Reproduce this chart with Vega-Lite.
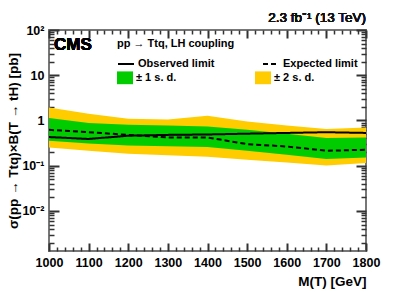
{
  "$schema": "https://vega.github.io/schema/vega-lite/v6.json",
  "width": 317,
  "height": 221,
  "autosize": {"type": "none"},
  "padding": {"left": 49, "top": 30, "right": 41, "bottom": 41},
  "background": "white",
  "config": {
    "font": "Liberation Sans",
    "view": {"stroke": "#777", "strokeWidth": 2},
    "axis": {"domain": false, "grid": false, "zindex": 1, "labelFont": "Liberation Sans", "labelFontWeight": "bold", "labelFontSize": 12.5, "labelColor": "black", "titleFont": "Liberation Sans", "titleFontWeight": "bold", "titleFontSize": 13.5, "titleColor": "black"},
    "legend": {"orient": "none", "padding": 0, "columns": 2, "rowPadding": 1, "titleFont": "Liberation Sans", "titleFontSize": 11, "titleFontWeight": "bold", "titleColor": "black", "labelFont": "Liberation Sans", "labelFontSize": 11, "labelFontWeight": "bold", "labelColor": "black", "labelOffset": 3, "symbolSize": 256}
  },
  "data": {"values": [
    {"m": 1000, "obs": 0.43, "exp": 0.62, "lo1": 0.356, "hi1": 1.13, "lo2": 0.253, "hi2": 1.94},
    {"m": 1100, "obs": 0.39, "exp": 0.55, "lo1": 0.31, "hi1": 0.876, "lo2": 0.214, "hi2": 1.41},
    {"m": 1200, "obs": 0.46, "exp": 0.48, "lo1": 0.28, "hi1": 0.80, "lo2": 0.183, "hi2": 1.09},
    {"m": 1300, "obs": 0.48, "exp": 0.42, "lo1": 0.27, "hi1": 0.775, "lo2": 0.17, "hi2": 1.05},
    {"m": 1400, "obs": 0.49, "exp": 0.42, "lo1": 0.258, "hi1": 0.737, "lo2": 0.157, "hi2": 1.27},
    {"m": 1500, "obs": 0.51, "exp": 0.30, "lo1": 0.214, "hi1": 0.62, "lo2": 0.135, "hi2": 0.95},
    {"m": 1600, "obs": 0.53, "exp": 0.266, "lo1": 0.174, "hi1": 0.51, "lo2": 0.118, "hi2": 0.775},
    {"m": 1700, "obs": 0.55, "exp": 0.214, "lo1": 0.14, "hi1": 0.41, "lo2": 0.101, "hi2": 0.645},
    {"m": 1800, "obs": 0.53, "exp": 0.225, "lo1": 0.152, "hi1": 0.42, "lo2": 0.114, "hi2": 0.70}
  ]},
  "resolve": {"axis": {"x": "independent", "y": "independent"}},
  "layer": [
    {
      "mark": {"type": "area", "opacity": 1},
      "encoding": {
        "x": {"field": "m", "type": "quantitative",
          "scale": {"domain": [1000, 1800], "nice": false, "zero": false},
          "axis": {"orient": "bottom", "title": "M(T) [GeV]", "titleAnchor": "end", "titlePadding": 6, "format": "d", "offset": -8, "tickSize": 8, "labelPadding": 5, "tickColor": "#333", "tickWidth": 2,
            "values": [1000,1100,1200,1300,1400,1500,1600,1700,1800],
            "labelFlush": false, "labelOverlap": false}},
        "y": {"field": "hi2", "type": "quantitative",
          "scale": {"type": "log", "domain": [0.0013, 100], "nice": false},
          "axis": {"orient": "left", "title": "σ(pp → Ttq)×B(T → tH) [pb]", "titlePadding": 1, "offset": -10, "tickSize": 10, "labelPadding": 5, "tickColor": "#333", "tickWidth": 2,
            "values": [0.01, 0.1, 1, 10, 100],
            "labelExpr": "datum.value == 100 ? '10²' : datum.value == 10 ? '10' : datum.value == 1 ? '1' : datum.value == 0.1 ? '10⁻¹' : '10⁻²'",
            "labelOverlap": false, "labelFlush": false}},
        "y2": {"field": "lo2"},
        "fill": {"datum": "± 2 s. d.", "type": "nominal",
          "scale": {"domain": ["± 1 s. d.", "± 2 s. d."], "range": ["#00cc00", "#ffcc00"]},
          "legend": {"legendX": 68, "legendY": 39.5, "title": null, "columnPadding": 78, "symbolType": "M-1,-0.8L1,-0.8L1,0.8L-1,0.8Z", "symbolOpacity": 1, "symbolStrokeWidth": 0}}
      }
    },
    {
      "mark": {"type": "area", "opacity": 1},
      "encoding": {
        "x": {"field": "m", "type": "quantitative",
          "axis": {"orient": "top", "title": null, "labels": false, "offset": -8, "tickSize": 8, "tickColor": "#333", "tickWidth": 2, "values": [1000,1100,1200,1300,1400,1500,1600,1700,1800]}},
        "y": {"field": "hi1", "type": "quantitative",
          "axis": {"orient": "right", "title": null, "labels": false, "offset": -10, "tickSize": 10, "tickColor": "#333", "tickWidth": 2, "values": [0.01, 0.1, 1, 10, 100]}},
        "y2": {"field": "lo1"},
        "fill": {"datum": "± 1 s. d.", "type": "nominal", "legend": null}
      }
    },
    {
      "mark": {"type": "line", "strokeWidth": 2, "color": "black"},
      "encoding": {
        "x": {"field": "m", "type": "quantitative",
          "axis": {"orient": "bottom", "title": null, "labels": false, "offset": -4, "tickSize": 4, "tickColor": "#333", "tickWidth": 1.5,
            "values": [1020,1040,1060,1080,1120,1140,1160,1180,1220,1240,1260,1280,1320,1340,1360,1380,1420,1440,1460,1480,1520,1540,1560,1580,1620,1640,1660,1680,1720,1740,1760,1780]}},
        "y": {"field": "exp", "type": "quantitative",
          "axis": {"orient": "left", "title": null, "labels": false, "offset": -5, "tickSize": 5, "tickColor": "#333", "tickWidth": 1.5,
            "values": [0.002,0.003,0.004,0.005,0.006,0.007,0.008,0.009,0.02,0.03,0.04,0.05,0.06,0.07,0.08,0.09,0.2,0.3,0.4,0.5,0.6,0.7,0.8,0.9,2,3,4,5,6,7,8,9,20,30,40,50,60,70,80,90]}},
        "strokeDash": {"datum": "Expected limit", "type": "nominal",
          "scale": {"domain": ["Observed limit", "Expected limit"], "range": [[1, 0], [5, 3]]},
          "legend": {"legendX": 68, "legendY": 8, "title": "pp → Ttq, LH coupling", "titlePadding": 6, "columnPadding": 44, "symbolType": "stroke", "symbolStrokeColor": "black", "symbolStrokeWidth": 2}}
      }
    },
    {
      "mark": {"type": "line", "strokeWidth": 2, "color": "black"},
      "encoding": {
        "x": {"field": "m", "type": "quantitative",
          "axis": {"orient": "top", "title": null, "labels": false, "offset": -4, "tickSize": 4, "tickColor": "#333", "tickWidth": 1.5,
            "values": [1020,1040,1060,1080,1120,1140,1160,1180,1220,1240,1260,1280,1320,1340,1360,1380,1420,1440,1460,1480,1520,1540,1560,1580,1620,1640,1660,1680,1720,1740,1760,1780]}},
        "y": {"field": "obs", "type": "quantitative",
          "axis": {"orient": "right", "title": null, "labels": false, "offset": -5, "tickSize": 5, "tickColor": "#333", "tickWidth": 1.5,
            "values": [0.002,0.003,0.004,0.005,0.006,0.007,0.008,0.009,0.02,0.03,0.04,0.05,0.06,0.07,0.08,0.09,0.2,0.3,0.4,0.5,0.6,0.7,0.8,0.9,2,3,4,5,6,7,8,9,20,30,40,50,60,70,80,90]}},
        "strokeDash": {"datum": "Observed limit", "type": "nominal", "legend": null}
      }
    },
    {
      "mark": {"type": "text", "text": "CMS", "font": "Liberation Sans", "fontWeight": "bold", "fontSize": 17, "align": "left", "baseline": "alphabetic", "dx": 5, "dy": 20, "color": "black"},
      "encoding": {
        "x": {"datum": 1000, "type": "quantitative", "axis": null},
        "y": {"datum": 100, "type": "quantitative", "axis": null}
      }
    },
    {
      "mark": {"type": "text", "text": "2.3 fb⁻¹ (13 TeV)", "font": "Liberation Sans", "fontWeight": 400, "fontSize": 13.5, "align": "right", "baseline": "alphabetic", "dy": -8, "color": "#111"},
      "encoding": {
        "x": {"datum": 1800, "type": "quantitative", "axis": null},
        "y": {"datum": 100, "type": "quantitative", "axis": null}
      }
    }
  ]
}
